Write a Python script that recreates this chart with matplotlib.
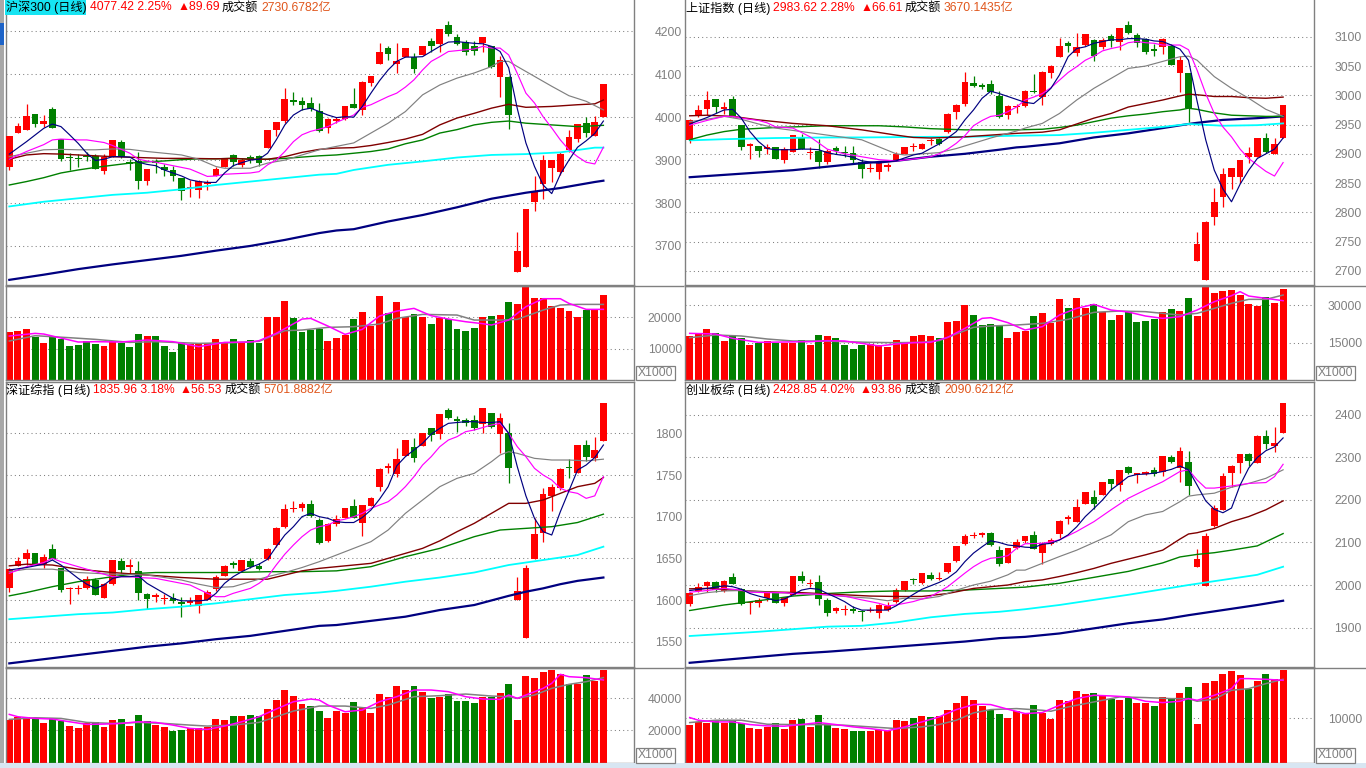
import numpy as np
import matplotlib
matplotlib.use('Agg')
import matplotlib.pyplot as plt
from matplotlib.patches import Rectangle
from matplotlib.lines import Line2D

# ---------------- data ----------------
# candles: (open, high, low, close), 70 trading days per index

hs300_ohlc = [
    (3885, 3956, 3877, 3955), (3964, 3986, 3964, 3980), (3970, 4030, 3969, 4003), (4008, 4008, 3976, 3984), (3985, 4005, 3976, 3991),
    (4020, 4023, 3974, 3974), (3949, 3949, 3898, 3903), (3908, 3916, 3877, 3905), (3905, 3914, 3885, 3902), (3910, 3918, 3897, 3907),
    (3910, 3914, 3879, 3879), (3875, 3914, 3868, 3908), (3907, 3947, 3907, 3947), (3941, 3946, 3905, 3908), (3895, 3902, 3877, 3892),
    (3897, 3919, 3833, 3852), (3852, 3880, 3841, 3880), (3896, 3902, 3871, 3893), (3883, 3891, 3863, 3876), (3877, 3887, 3852, 3864),
    (3859, 3859, 3806, 3828), (3834, 3854, 3815, 3838), (3831, 3854, 3812, 3852), (3844, 3854, 3831, 3849), (3862, 3883, 3862, 3880),
    (3885, 3904, 3885, 3904), (3911, 3914, 3886, 3896), (3889, 3904, 3885, 3900), (3908, 3911, 3893, 3902), (3910, 3911, 3887, 3893),
    (3929, 3970, 3928, 3969), (3970, 3989, 3955, 3989), (3990, 4069, 3986, 4043), (4040, 4059, 4028, 4035), (4038, 4047, 4016, 4029),
    (4033, 4047, 4015, 4019), (4015, 4033, 3966, 3968), (3974, 3999, 3964, 3995), (3990, 4001, 3986, 3995), (3995, 4026, 3994, 4026),
    (4031, 4068, 4021, 4022), (4017, 4085, 4005, 4082), (4079, 4096, 4073, 4095), (4123, 4172, 4123, 4152), (4161, 4166, 4134, 4147),
    (4123, 4172, 4103, 4131), (4140, 4162, 4140, 4162), (4140, 4149, 4102, 4113), (4145, 4166, 4145, 4166), (4178, 4184, 4151, 4165),
    (4171, 4206, 4151, 4206), (4215, 4224, 4190, 4193), (4186, 4194, 4168, 4170), (4175, 4179, 4144, 4151), (4165, 4178, 4145, 4155),
    (4172, 4187, 4151, 4187), (4166, 4166, 4114, 4116), (4094, 4143, 4048, 4134), (4094, 4095, 3973, 4005), (3640, 3732, 3640, 3688),
    (3652, 3786, 3652, 3786), (3802, 3864, 3782, 3829), (3844, 3911, 3809, 3900), (3881, 3900, 3850, 3900), (3873, 3920, 3866, 3914),
    (3924, 3970, 3920, 3954), (3948, 3984, 3941, 3984), (3986, 4000, 3953, 3963), (3955, 4003, 3955, 3989), (4000, 4077, 4000, 4077),
]

sh_ohlc = [
    (2923.6, 2959, 2918, 2957.8), (2964.7, 2983.5, 2963.5, 2975), (2977, 3008, 2966.4, 2992), (2993, 2994, 2969, 2979.5), (2976, 2988, 2968, 2979.5),
    (2993.7, 2999, 2963.5, 2964.7), (2949, 2949, 2906.5, 2911), (2914, 2918, 2891, 2917), (2913, 2913, 2894, 2905.4), (2908, 2917, 2900, 2911),
    (2912, 2912, 2891.7, 2891.7), (2889.5, 2912, 2883.8, 2907.7), (2903.7, 2933, 2903.7, 2933), (2928, 2934, 2909, 2909), (2901, 2911, 2891, 2903.7),
    (2905, 2925, 2875, 2885.5), (2885.5, 2907.7, 2882, 2905), (2910.5, 2914, 2900, 2905.4), (2902.6, 2913, 2895, 2901), (2901, 2913, 2882, 2889.5),
    (2885.5, 2890.6, 2859, 2873.5), (2873.5, 2885, 2869.5, 2876.4), (2869.5, 2885, 2857, 2885), (2878, 2883.8, 2870.6, 2881), (2887.7, 2903.7, 2887.7, 2900),
    (2899, 2912, 2899, 2912), (2912, 2919, 2904.8, 2914), (2908, 2919, 2907.5, 2916.8), (2922, 2926.5, 2915, 2923.6), (2924.8, 2926.5, 2915, 2916.8),
    (2938, 2969, 2936, 2968), (2972, 2984.6, 2959, 2983.5), (2985, 3040.5, 2981.8, 3023), (3021.7, 3033, 3013.7, 3016.5), (3017.7, 3021.7, 3010, 3015),
    (3019, 3027, 3002, 3005), (2999, 3008, 2960.7, 2963.5), (2965.8, 2983.5, 2959.5, 2981.8), (2980.6, 2986, 2970, 2982.3), (2981.8, 3009, 2980.6, 3007.4),
    (3008, 3036.5, 3004.6, 3005), (2997.7, 3041.6, 2983.5, 3040.5), (3037.6, 3052, 3030, 3050), (3066, 3097.4, 3066, 3085), (3090, 3093.5, 3074.6, 3085),
    (3071.8, 3106, 3067, 3082), (3086, 3105, 3084, 3105), (3094.6, 3095.7, 3059.3, 3067.8), (3083, 3098.6, 3079, 3094.6), (3101.4, 3105, 3083, 3093.5),
    (3091.7, 3114.5, 3077.5, 3114.5), (3120, 3127, 3105, 3107), (3103, 3107, 3083, 3090), (3095.7, 3098.6, 3070.6, 3073.5), (3080, 3087.7, 3067.8, 3076),
    (3083, 3097.4, 3070.6, 3095.7), (3085, 3087, 3052, 3052), (3038.7, 3067, 3006.3, 3060.4), (3038.7, 3038.7, 2955, 2977.8), (2717.4, 2767, 2717.4, 2746),
    (2684.3, 2785.8, 2684.3, 2784), (2792.6, 2841, 2778, 2818), (2826.8, 2875, 2808.5, 2865.5), (2860, 2875, 2839, 2875), (2861, 2889.5, 2850.7, 2889.5),
    (2895, 2912, 2883.8, 2902), (2895, 2927.6, 2895, 2927.6), (2927.6, 2936, 2902, 2903.7), (2900, 2927.6, 2900, 2916.8), (2926.5, 2983.5, 2926.5, 2983.5),
]

szzz_ohlc = [
    (1614, 1638, 1610, 1636.8), (1641.2, 1652, 1641.2, 1646.8), (1649.2, 1661, 1642, 1656), (1656, 1656, 1642, 1642.8), (1642.8, 1655, 1639, 1652),
    (1661.2, 1667, 1649.2, 1649.2), (1638, 1638, 1610, 1612), (1612.8, 1616, 1595, 1614.4), (1612.8, 1618, 1607, 1614), (1614, 1628.8, 1612.8, 1625),
    (1624, 1627, 1606, 1606), (1603, 1620.8, 1602, 1619), (1619, 1648, 1618, 1648), (1646.8, 1650, 1632.8, 1636), (1640, 1649, 1631, 1642),
    (1634.8, 1647, 1600, 1608.8), (1607, 1608, 1588.8, 1600.8), (1604, 1609, 1598, 1605.6), (1600.8, 1606.8, 1595, 1602), (1602, 1608, 1596, 1599),
    (1598, 1604, 1580, 1594.8), (1597, 1604, 1592.8, 1598.8), (1592.8, 1606, 1584.8, 1606), (1600, 1612, 1600, 1610), (1612.8, 1630, 1611, 1628),
    (1628.8, 1642, 1628.8, 1640.8), (1644.8, 1646.8, 1638, 1641.6), (1635.2, 1648, 1635.2, 1648), (1646.8, 1650, 1638, 1640), (1641, 1645, 1636, 1637.6),
    (1649, 1663, 1648, 1661), (1666, 1688, 1664, 1686), (1687.6, 1715, 1686, 1709), (1708.8, 1718.8, 1706, 1710.8), (1711, 1718, 1706.8, 1714.8),
    (1715, 1720, 1700, 1701), (1696, 1699, 1667, 1668.8), (1671, 1692, 1670, 1690.8), (1690.8, 1702, 1689, 1697), (1698.8, 1710, 1698.8, 1710),
    (1712.8, 1721, 1699, 1699), (1692.8, 1713.6, 1677, 1713.6), (1713, 1724, 1713, 1723), (1736, 1758, 1731, 1756.8), (1759, 1765, 1752, 1760.8),
    (1751, 1782, 1748, 1769), (1772.8, 1792, 1772.8, 1792), (1784, 1794, 1766, 1770.8), (1785, 1801, 1785, 1801), (1806, 1806, 1791, 1798),
    (1799, 1823, 1792.8, 1823), (1828, 1830.4, 1817, 1818.8), (1817, 1820.8, 1802, 1814.8), (1816, 1819, 1809, 1812.8), (1816, 1822, 1804, 1806.8),
    (1810.8, 1830, 1801, 1830), (1825, 1825, 1807, 1808), (1798.8, 1825, 1776, 1819), (1801, 1813, 1740.8, 1758), (1600, 1628, 1600, 1610.8),
    (1554, 1642, 1554, 1638), (1649.2, 1698, 1649.2, 1679), (1680.8, 1734, 1670, 1726.8), (1725, 1739, 1707, 1736), (1734, 1758, 1732, 1756.8),
    (1760, 1768.8, 1747, 1758.8), (1752.8, 1786, 1752, 1786), (1786, 1792, 1767, 1772), (1770.8, 1796, 1766.8, 1780), (1791, 1836.8, 1791, 1836.8),
]

cyb_ohlc = [
    (1955.3, 1982.7, 1951.4, 1980.4), (1985.9, 2003.9, 1984.3, 1994.5), (1998.4, 2009.4, 1984.3, 2006.3), (2007.8, 2009.4, 1982.7, 1988.2), (1985.9, 2011.8, 1984.3, 2009.4),
    (2019.6, 2027.5, 2002.4, 2002.4), (1990.6, 1992.2, 1953, 1955.3), (1956.9, 1960.8, 1931.3, 1958.4), (1956.9, 1968.6, 1949, 1964.7), (1968.6, 1984.3, 1963, 1980.4),
    (1980.4, 1984.3, 1958.4, 1958.4), (1956.9, 1972.6, 1951.4, 1971), (1976.5, 2021.2, 1976.5, 2021.2), (2021.2, 2033, 2005.5, 2009.4), (2001.6, 2013.3, 1996, 2003.9),
    (2006.3, 2023.5, 1953, 1966.3), (1964.7, 1968.6, 1927.8, 1935), (1938.8, 1949, 1933.4, 1946.7), (1941.2, 1953, 1929.4, 1943.5), (1942.7, 1951.4, 1933.4, 1939.6),
    (1939.6, 1941.2, 1916, 1935.7), (1938.8, 1949, 1935.7, 1941.2), (1933.4, 1955.3, 1921.4, 1953), (1941.2, 1960.8, 1938.8, 1951.4), (1960.8, 1992.2, 1958.4, 1988.2),
    (1988.2, 2009.4, 1986.7, 2009.4), (2014.1, 2015.7, 2002.4, 2011.8), (2003.9, 2029, 2002.4, 2027.5), (2023.5, 2031.4, 2011.8, 2014.1), (2014.1, 2031.4, 2011.8, 2017.3),
    (2031.4, 2052.6, 2029, 2051), (2056.5, 2091.8, 2055, 2091.8), (2095.7, 2120, 2094.1, 2116.1), (2115.3, 2125.5, 2109.8, 2117.6), (2117.6, 2125.5, 2112.2, 2121.6),
    (2123.1, 2125.5, 2092.5, 2094.1), (2082.4, 2091.8, 2045.5, 2048.6), (2052.6, 2087.9, 2051, 2086.3), (2086.3, 2107.5, 2084.7, 2102), (2104.3, 2115.3, 2098, 2115.3),
    (2117.6, 2127, 2084.7, 2084.7), (2074.5, 2102, 2048.6, 2096.5), (2096.5, 2109.8, 2094.1, 2105.9), (2120, 2152.9, 2109.8, 2150.6), (2154.5, 2164.7, 2143.5, 2160.8),
    (2149, 2202.4, 2147.5, 2184.3), (2190.6, 2219.6, 2190.6, 2219.6), (2206.3, 2223.5, 2178.8, 2190.6), (2211.8, 2243, 2211.8, 2243), (2249.4, 2249.4, 2223.5, 2236.9),
    (2235.3, 2270.6, 2222, 2270.6), (2276.9, 2280, 2261.2, 2262.7), (2258.8, 2264.3, 2240.8, 2262.7), (2261.2, 2268.2, 2259, 2265.1), (2270.6, 2276.9, 2257.3, 2261.2),
    (2266.7, 2303.5, 2256.5, 2303.5), (2302, 2305.9, 2286, 2288.6), (2276, 2325.5, 2243, 2315.3), (2290.2, 2315.3, 2211.8, 2233), (2043.1, 2084, 2043.1, 2061.2),
    (1998.4, 2121.6, 1998.4, 2115.3), (2138.8, 2188.2, 2135.7, 2182), (2176.5, 2264.3, 2176.5, 2256.5), (2264.3, 2282.4, 2229.8, 2280), (2286.3, 2308.2, 2262.7, 2308.2),
    (2308.2, 2311.4, 2280, 2292.6), (2286.3, 2352.9, 2286.3, 2350.6), (2350.6, 2364.7, 2320, 2331.8), (2327.1, 2371, 2313.7, 2334.9), (2358.4, 2427.5, 2358.4, 2427.5),
]

# volume (axis unit = X1000)
hs300_vol = [15307, 15626, 16264, 13713, 11799, 14138, 13075, 10843, 11162, 12331,
             11587, 10843, 12331, 11693, 10524, 14669, 14032, 14032, 10843, 8929,
             11693, 11374, 11374, 11693, 13075, 11693, 13075, 12118, 12650, 11906,
             20091, 20091, 25193, 19878, 15307, 15945, 16264, 12437, 13394, 14244,
             19453, 21685, 17221, 26788, 21473, 24874, 19984, 21047, 19984, 17965,
             19878, 19453, 16264, 15626, 16583, 20091, 20410, 20835, 24874, 24236,
             29658, 26150, 26044, 23599, 22961, 22004, 20091, 22429, 22323, 27107]
sh_vol = [17596, 18662, 20395, 18662, 15596, 17996, 16929, 13997, 14930, 15596,
          14930, 14663, 14663, 15996, 13997, 17996, 17596, 16929, 13997, 12397,
          13997, 14263, 13997, 13330, 15996, 15196, 17596, 17996, 17596, 16929,
          23194, 23594, 29993, 25994, 21995, 22394, 21728, 16929, 19329, 19728,
          25594, 26927, 22661, 32392, 28793, 32925, 28926, 30392, 27327, 23994,
          25994, 27060, 23328, 23727, 24394, 27193, 28393, 27593, 32925, 25594,
          37324, 34925, 35724, 35991, 33992, 30259, 29726, 33192, 30926, 36391]
szzz_vol = [26454, 28537, 28537, 27912, 24788, 27496, 25829, 22705, 21663, 24371,
            25413, 22288, 26454, 27079, 22705, 29579, 25829, 23330, 22288, 19789,
            20205, 21247, 21247, 22288, 27079, 26454, 28954, 28954, 29579, 28954,
            33328, 38952, 45201, 41452, 36453, 35203, 32078, 27912, 32287, 31037,
            37702, 34786, 30828, 42702, 40827, 47701, 45201, 47701, 43743, 40202,
            41035, 42910, 38536, 38536, 37077, 41035, 41035, 43326, 48951, 26454,
            53950, 52908, 56449, 57699, 55200, 48951, 48951, 54575, 50825, 57699]
cyb_vol = [8411, 9162, 9012, 9388, 9012, 9538, 8937, 7810, 7510, 7961,
           8937, 7510, 9538, 9763, 7961, 10664, 8561, 7810, 7510, 7059,
           7059, 7210, 7435, 7135, 9538, 9312, 10063, 10439, 10214, 10439,
           11791, 13443, 14945, 14119, 12692, 11941, 10890, 10063, 11565, 11040,
           12992, 11265, 9763, 14119, 13894, 16147, 15396, 15621, 15020, 14344,
           14044, 14645, 13443, 13443, 12767, 14720, 14494, 15621, 16973, 8637,
           17949, 18324, 19902, 20653, 19676, 16522, 18400, 19902, 18775, 20803]

# moving-average lines, read as (day index, value) points
hs300_ma5 = [(0, 3914), (2, 3943), (4, 3974), (5, 3984), (6, 3978), (7, 3959), (8, 3939), (9, 3916), (10, 3899), (11, 3902), (12, 3908), (13, 3908), (14, 3907), (15, 3895), (16, 3890), (17, 3887), (18, 3877), (19, 3870), (20, 3863), (21, 3854), (22, 3850), (23, 3848), (24, 3848), (25, 3870), (26, 3887), (27, 3894), (28, 3900), (29, 3902), (30, 3916), (31, 3947), (32, 3982), (33, 4005), (34, 4017), (35, 4021), (36, 4013), (37, 4005), (38, 3999), (39, 4001), (40, 4000), (41, 4025), (42, 4056), (43, 4085), (44, 4110), (45, 4130), (46, 4140), (47, 4140), (48, 4141), (49, 4153), (50, 4165), (51, 4175), (52, 4176), (53, 4174), (54, 4172), (55, 4171), (56, 4165), (57, 4153), (58, 4115), (59, 4020), (60, 3940), (61, 3885), (62, 3842), (63, 3822), (64, 3867), (65, 3900), (66, 3930), (67, 3945), (68, 3962), (69, 3991)]
hs300_ma10 = [(0, 3902), (2, 3920), (4, 3936), (5, 3947), (6, 3949), (8, 3947), (9, 3947), (11, 3941), (12, 3934), (14, 3916), (15, 3902), (16, 3898), (17, 3895), (19, 3887), (21, 3879), (23, 3862), (24, 3863), (25, 3867), (26, 3868), (28, 3870), (29, 3873), (30, 3889), (31, 3900), (32, 3920), (33, 3943), (34, 3959), (35, 3967), (36, 3972), (37, 3978), (38, 3988), (40, 4005), (41, 4023), (42, 4029), (44, 4048), (45, 4056), (46, 4070), (47, 4087), (48, 4110), (49, 4130), (50, 4141), (51, 4153), (52, 4155), (53, 4157), (54, 4159), (55, 4165), (56, 4161), (57, 4161), (58, 4145), (59, 4102), (60, 4056), (61, 4033), (62, 4001), (63, 3975), (64, 3947), (65, 3924), (66, 3908), (67, 3895), (68, 3891), (69, 3930)]
hs300_ma20 = [(0, 3908), (2, 3916), (4, 3924), (6, 3925), (8, 3924), (10, 3924), (12, 3926), (14, 3925), (16, 3920), (18, 3916), (20, 3912), (22, 3902), (24, 3885), (25, 3881), (26, 3881), (28, 3881), (30, 3893), (32, 3900), (34, 3912), (36, 3924), (38, 3932), (40, 3940), (42, 3963), (44, 3986), (46, 4013), (48, 4052), (50, 4075), (52, 4091), (54, 4103), (56, 4118), (57, 4130), (58, 4130), (59, 4118), (61, 4095), (63, 4072), (65, 4050), (67, 4037), (69, 4017)]
hs300_ma30 = [(0, 3902), (2, 3912), (4, 3915), (6, 3914), (9, 3911), (12, 3908), (15, 3906), (18, 3904), (21, 3904), (24, 3903), (26, 3904), (28, 3902), (30, 3902), (32, 3908), (34, 3918), (36, 3925), (38, 3928), (40, 3929), (42, 3934), (44, 3941), (46, 3949), (48, 3960), (50, 3982), (52, 3998), (54, 4009), (56, 4021), (58, 4030), (60, 4023), (63, 4025), (66, 4029), (68, 4031), (69, 4040)]
hs300_ma60 = [(0, 3842), (2, 3850), (4, 3859), (6, 3870), (8, 3877), (10, 3883), (12, 3888), (14, 3893), (16, 3896), (18, 3898), (20, 3901), (22, 3903), (24, 3903), (26, 3904), (28, 3902), (30, 3902), (32, 3904), (34, 3907), (36, 3910), (38, 3912), (40, 3916), (42, 3920), (44, 3926), (46, 3938), (48, 3947), (50, 3963), (52, 3971), (54, 3982), (56, 3988), (58, 3991), (60, 3986), (63, 3982), (66, 3978), (69, 3981)]
hs300_ma120 = [(0, 3792), (4, 3803), (8, 3811), (12, 3819), (16, 3824), (20, 3832), (24, 3842), (28, 3850), (32, 3858), (36, 3866), (38, 3868), (40, 3877), (44, 3889), (48, 3897), (52, 3906), (56, 3912), (60, 3914), (64, 3918), (68, 3929), (69, 3929)]
hs300_ma250 = [(0, 3621), (4, 3633), (8, 3646), (12, 3657), (16, 3667), (20, 3677), (24, 3689), (28, 3700), (32, 3714), (36, 3730), (38, 3736), (40, 3739), (44, 3757), (48, 3772), (52, 3790), (56, 3810), (60, 3824), (64, 3835), (68, 3849), (69, 3852)]

sh_ma5 = [(0, 2951), (2, 2962), (4, 2975), (5, 2976), (6, 2961), (7, 2938), (8, 2921), (9, 2909), (10, 2907), (11, 2907), (12, 2907), (13, 2908), (14, 2908), (15, 2907), (16, 2902), (17, 2899), (18, 2897), (19, 2894), (20, 2888), (21, 2886), (22, 2884), (23, 2886), (24, 2888), (25, 2893), (26, 2898), (27, 2901), (28, 2909), (29, 2917), (30, 2927), (31, 2938), (32, 2958), (33, 2975), (34, 2995), (35, 3007), (36, 3003), (37, 2998), (38, 2993), (39, 2988), (40, 2986), (41, 2998), (42, 3012), (43, 3035), (44, 3066), (45, 3080), (46, 3083), (47, 3089), (48, 3092), (49, 3095), (50, 3095), (51, 3097), (52, 3097), (53, 3096), (54, 3093), (55, 3092), (56, 3086), (57, 3079), (58, 3060), (59, 2990), (60, 2924), (61, 2872), (62, 2840), (63, 2818), (64, 2848), (65, 2872), (66, 2892), (67, 2900), (68, 2908), (69, 2927)]
sh_ma10 = [(0, 2949), (2, 2957), (4, 2964), (5, 2964), (6, 2961), (8, 2957), (9, 2953), (10, 2946), (12, 2944), (14, 2929), (16, 2908), (18, 2900), (20, 2895), (22, 2890), (24, 2888), (26, 2891), (28, 2895), (29, 2900), (30, 2908), (31, 2918), (32, 2931), (33, 2948), (34, 2957), (35, 2964), (36, 2966), (37, 2972), (38, 2980), (39, 2992), (40, 2997), (41, 3003), (42, 3013), (43, 3026), (44, 3039), (45, 3049), (46, 3060), (47, 3067), (48, 3076), (49, 3080), (50, 3083), (51, 3090), (52, 3092), (53, 3090), (54, 3089), (55, 3086), (56, 3086), (57, 3086), (58, 3078), (59, 3043), (60, 3003), (61, 2969), (62, 2946), (63, 2929), (64, 2908), (65, 2892), (66, 2881), (67, 2870), (68, 2862), (69, 2885)]
sh_ma20 = [(0, 2955), (2, 2959), (4, 2964), (6, 2959), (8, 2951), (10, 2944), (12, 2940), (14, 2936), (16, 2932), (18, 2928), (20, 2924), (22, 2912), (24, 2900), (25, 2898), (27, 2900), (29, 2902), (31, 2909), (33, 2918), (35, 2927), (37, 2935), (38, 2939), (39, 2944), (41, 2952), (43, 2969), (45, 2992), (47, 3012), (49, 3029), (51, 3046), (53, 3050), (55, 3058), (57, 3066), (58, 3067), (59, 3060), (61, 3032), (63, 3012), (65, 2995), (67, 2976), (69, 2964)]
sh_ma30 = [(0, 2965), (2, 2966), (5, 2964), (8, 2958), (12, 2952), (16, 2948), (20, 2941), (24, 2932), (26, 2928), (28, 2927), (30, 2928), (32, 2929), (35, 2932), (38, 2935), (41, 2937), (43, 2941), (45, 2951), (47, 2961), (49, 2969), (51, 2980), (53, 2986), (55, 2992), (57, 2999), (58, 3002), (59, 3001), (61, 2998), (63, 2998), (65, 2996), (67, 2995), (69, 2997)]
sh_ma60 = [(0, 2924), (2, 2932), (4, 2938), (6, 2942), (10, 2945), (16, 2948), (22, 2948), (25, 2946), (28, 2943), (32, 2941), (38, 2941), (41, 2942), (43, 2945), (45, 2949), (47, 2955), (49, 2961), (51, 2965), (53, 2968), (55, 2972), (57, 2975), (58, 2978), (59, 2976), (61, 2970), (63, 2966), (65, 2965), (67, 2964), (69, 2964)]
sh_ma120 = [(0, 2923), (4, 2925), (10, 2927), (16, 2928), (20, 2928), (28, 2929), (32, 2929), (38, 2931), (43, 2932), (47, 2936), (51, 2941), (55, 2946), (58, 2951), (62, 2948), (66, 2949), (69, 2952)]
sh_ma250 = [(0, 2860), (4, 2864), (8, 2868), (12, 2872), (16, 2878), (20, 2884), (24, 2888), (28, 2895), (32, 2900), (36, 2907), (38, 2911), (39, 2912), (43, 2918), (47, 2928), (51, 2935), (55, 2944), (58, 2951), (59, 2953), (62, 2958), (66, 2961), (69, 2964)]

szzz_ma5 = [(0, 1636), (2, 1639), (4, 1643), (5, 1648), (6, 1642), (7, 1634), (8, 1626), (9, 1619), (10, 1614), (11, 1618), (12, 1626), (13, 1628), (14, 1628), (15, 1629), (16, 1620), (17, 1614), (18, 1608), (19, 1602), (20, 1599), (21, 1599), (22, 1599), (23, 1600), (24, 1608), (25, 1620), (26, 1628), (27, 1634), (28, 1639), (29, 1643), (30, 1649), (31, 1664), (32, 1678), (33, 1688), (34, 1700), (35, 1704), (36, 1700), (37, 1698), (38, 1694), (39, 1693), (40, 1693), (41, 1699), (42, 1708), (43, 1721), (44, 1736), (45, 1761), (46, 1772), (47, 1780), (48, 1788), (49, 1799), (50, 1806), (51, 1812), (52, 1813), (53, 1814), (54, 1814), (55, 1813), (56, 1813), (57, 1814), (58, 1800), (59, 1760), (60, 1725), (61, 1698), (62, 1682), (63, 1678), (64, 1706), (65, 1731), (66, 1756), (67, 1762), (68, 1771), (69, 1786)]
szzz_ma10 = [(0, 1632), (2, 1640), (4, 1645), (5, 1650), (6, 1646), (8, 1640), (10, 1634), (12, 1628), (14, 1628), (15, 1627), (17, 1626), (19, 1622), (21, 1618), (23, 1608), (24, 1604), (25, 1604), (26, 1608), (28, 1614), (29, 1620), (30, 1628), (31, 1642), (32, 1655), (33, 1666), (34, 1676), (35, 1684), (36, 1688), (37, 1690), (38, 1695), (39, 1697), (40, 1700), (41, 1704), (42, 1710), (43, 1714), (44, 1718), (45, 1726), (46, 1736), (47, 1748), (48, 1762), (49, 1772), (50, 1784), (51, 1792), (52, 1796), (53, 1802), (54, 1804), (55, 1807), (56, 1810), (57, 1812), (58, 1800), (59, 1784), (60, 1772), (61, 1758), (62, 1750), (63, 1744), (64, 1734), (65, 1730), (66, 1728), (67, 1722), (68, 1725), (69, 1748)]
szzz_ma20 = [(0, 1634), (2, 1637), (5, 1637), (8, 1633), (12, 1631), (16, 1630), (20, 1624), (22, 1619), (24, 1615), (26, 1616), (28, 1622), (30, 1628), (32, 1633), (34, 1639), (36, 1646), (38, 1654), (40, 1662), (42, 1670), (44, 1684), (46, 1704), (48, 1720), (50, 1736), (52, 1746), (54, 1752), (56, 1766), (57, 1774), (58, 1778), (59, 1776), (61, 1770), (63, 1768), (65, 1768), (67, 1767), (69, 1769)]
szzz_ma30 = [(0, 1641), (2, 1643), (5, 1642), (8, 1637), (12, 1633), (16, 1630), (20, 1627), (24, 1625), (28, 1625), (30, 1625), (32, 1630), (34, 1635), (36, 1638), (38, 1640), (42, 1644), (46, 1656), (48, 1662), (50, 1671), (52, 1682), (54, 1692), (56, 1704), (58, 1716), (60, 1716), (62, 1720), (64, 1728), (66, 1736), (68, 1740), (69, 1747)]
szzz_ma60 = [(0, 1605), (2, 1609), (5, 1616), (8, 1622), (12, 1628), (15, 1632), (17, 1633), (22, 1633), (26, 1633), (30, 1634), (34, 1634), (38, 1635), (42, 1640), (46, 1652), (50, 1662), (54, 1676), (57, 1684), (60, 1686), (63, 1688), (66, 1693), (69, 1703)]
szzz_ma120 = [(0, 1577), (4, 1580), (8, 1583), (12, 1585), (16, 1589), (20, 1592), (24, 1596), (28, 1601), (32, 1606), (36, 1609), (38, 1611), (42, 1616), (46, 1622), (50, 1627), (54, 1633), (58, 1642), (62, 1648), (66, 1654), (69, 1664)]
szzz_ma250 = [(0, 1524), (4, 1529), (8, 1534), (12, 1539), (16, 1544), (20, 1548), (24, 1553), (28, 1557), (32, 1563), (36, 1569), (38, 1570), (42, 1575), (46, 1580), (50, 1588), (54, 1594), (58, 1605), (60, 1610), (62, 1614), (64, 1619), (66, 1623), (69, 1627)]

cyb_ma5 = [(0, 1987), (2, 1992), (4, 1998), (5, 1996), (6, 1990), (7, 1980), (8, 1974), (9, 1969), (10, 1963), (11, 1967), (12, 1977), (13, 1988), (14, 1992), (15, 1990), (16, 1980), (17, 1971), (18, 1961), (19, 1948), (20, 1941), (21, 1941), (22, 1941), (23, 1941), (24, 1951), (25, 1965), (26, 1978), (27, 1990), (28, 1998), (29, 2006), (30, 2016), (31, 2031), (32, 2055), (33, 2075), (34, 2090), (35, 2104), (36, 2100), (37, 2094), (38, 2092), (39, 2089), (40, 2088), (41, 2096), (42, 2098), (43, 2106), (44, 2118), (45, 2137), (46, 2161), (47, 2180), (48, 2200), (49, 2224), (50, 2239), (51, 2255), (52, 2260), (53, 2261), (54, 2263), (55, 2267), (56, 2272), (57, 2280), (58, 2271), (59, 2235), (60, 2198), (61, 2178), (62, 2170), (63, 2181), (64, 2235), (65, 2275), (66, 2300), (67, 2316), (68, 2325), (69, 2346)]
cyb_ma10 = [(0, 1983), (2, 1987), (4, 1992), (6, 1988), (7, 1983), (9, 1982), (11, 1982), (12, 1980), (14, 1979), (16, 1977), (18, 1974), (20, 1965), (22, 1957), (23, 1951), (24, 1953), (25, 1957), (26, 1961), (28, 1973), (29, 1984), (30, 1996), (31, 2012), (32, 2028), (33, 2043), (34, 2055), (35, 2063), (36, 2065), (37, 2069), (38, 2086), (39, 2097), (41, 2098), (43, 2106), (45, 2126), (47, 2149), (49, 2177), (51, 2204), (53, 2224), (55, 2243), (57, 2267), (58, 2271), (59, 2247), (60, 2228), (61, 2228), (63, 2233), (65, 2239), (67, 2241), (68, 2255), (69, 2284)]
cyb_ma20 = [(0, 1975), (2, 1982), (4, 1986), (6, 1987), (9, 1983), (12, 1980), (15, 1978), (18, 1973), (21, 1969), (23, 1963), (25, 1969), (27, 1967), (29, 1973), (31, 1988), (33, 2000), (35, 2009), (37, 2024), (38, 2035), (39, 2035), (41, 2051), (43, 2067), (45, 2082), (47, 2100), (49, 2118), (51, 2149), (53, 2165), (55, 2173), (57, 2196), (58, 2209), (59, 2212), (61, 2216), (63, 2230), (65, 2239), (67, 2251), (69, 2271)]
cyb_ma30 = [(0, 1991), (2, 1992), (5, 1988), (9, 1984), (13, 1982), (17, 1978), (21, 1974), (24, 1973), (27, 1973), (30, 1980), (33, 1992), (35, 1996), (37, 2000), (38, 2004), (39, 2008), (41, 2012), (43, 2020), (45, 2029), (47, 2039), (49, 2051), (51, 2061), (53, 2071), (55, 2082), (57, 2108), (58, 2120), (59, 2123), (61, 2133), (63, 2149), (65, 2161), (67, 2177), (69, 2198)]
cyb_ma60 = [(0, 1940), (4, 1953), (8, 1963), (12, 1974), (16, 1980), (20, 1984), (24, 1986), (28, 1986), (32, 1988), (36, 1992), (39, 1995), (43, 2004), (47, 2018), (51, 2032), (55, 2052), (57, 2066), (59, 2072), (61, 2076), (63, 2082), (66, 2092), (69, 2121)]
cyb_ma120 = [(0, 1880), (4, 1885), (8, 1890), (12, 1896), (16, 1902), (20, 1904), (24, 1912), (28, 1924), (32, 1932), (36, 1937), (38, 1941), (39, 1943), (43, 1953), (47, 1965), (51, 1977), (55, 1990), (58, 2000), (62, 2012), (66, 2024), (69, 2043)]
cyb_ma250 = [(0, 1817), (4, 1824), (8, 1831), (12, 1838), (16, 1843), (20, 1849), (24, 1855), (28, 1861), (32, 1867), (36, 1875), (39, 1878), (43, 1886), (47, 1898), (51, 1910), (55, 1919), (58, 1929), (62, 1941), (66, 1953), (69, 1963)]

# volume moving averages (magenta = 5 day, gray = 10 day)
hs300_vma5 = [(0, 14030), (3, 14880), (4, 14670), (8, 12120), (10, 12230), (13, 12120), (16, 12760), (19, 12230), (22, 10630), (25, 12010), (28, 12120), (29, 12540), (31, 14880), (34, 19450), (35, 19670), (37, 17220), (39, 14560), (41, 16160), (43, 20410), (45, 22000), (47, 22860), (49, 20520), (51, 19450), (53, 18600), (55, 17970), (56, 17540), (58, 19130), (60, 23390), (62, 25940), (64, 25940), (65, 24450), (67, 22540), (69, 22540)]
hs300_vma10 = [(0, 12440), (3, 14140), (7, 13500), (10, 12970), (14, 12010), (17, 12230), (22, 11690), (26, 11910), (29, 12330), (32, 15730), (34, 15950), (37, 16800), (40, 17010), (43, 17860), (45, 19670), (48, 20940), (52, 20730), (54, 19130), (57, 19130), (59, 19350), (62, 22320), (64, 23920), (66, 24130), (69, 24130)]
sh_vma5 = [(0, 18660), (3, 18400), (5, 16660), (8, 15060), (11, 15200), (14, 15330), (16, 15730), (18, 15600), (20, 14660), (22, 13600), (24, 14400), (26, 14930), (28, 15060), (30, 17060), (32, 20660), (34, 24660), (35, 24930), (37, 22930), (39, 20000), (41, 21330), (43, 25990), (45, 28660), (47, 30260), (49, 27990), (51, 27190), (53, 25590), (55, 24660), (57, 25330), (59, 27990), (61, 31330), (63, 33730), (64, 35330), (65, 33590), (67, 32660), (69, 31730)]
sh_vma10 = [(0, 16930), (3, 18000), (6, 17600), (9, 16400), (12, 15600), (15, 15600), (18, 15330), (21, 15060), (24, 14930), (27, 15060), (29, 15730), (31, 18400), (33, 21060), (35, 21600), (38, 22000), (41, 22660), (44, 24260), (47, 27060), (50, 27590), (53, 27330), (55, 26660), (57, 25990), (59, 26660), (61, 28660), (63, 30660), (65, 32260), (67, 32260), (69, 33990)]
szzz_vma5 = [(0, 30000), (1, 28540), (3, 27500), (5, 27080), (7, 25410), (9, 23750), (11, 23960), (13, 24370), (15, 25410), (17, 25000), (19, 23330), (21, 21250), (23, 20620), (25, 22710), (27, 25410), (29, 28540), (31, 33330), (33, 37910), (35, 39580), (36, 38950), (37, 35830), (39, 31660), (41, 32700), (43, 37910), (45, 41040), (47, 45200), (49, 45200), (51, 44160), (53, 41040), (55, 39580), (57, 39370), (58, 42080), (59, 39990), (60, 42080), (62, 46240), (63, 49370), (64, 54990), (65, 53530), (67, 52910), (69, 51450)]
szzz_vma10 = [(0, 26870), (3, 27910), (6, 27500), (9, 25000), (12, 24370), (15, 25000), (18, 24370), (21, 23330), (23, 22710), (26, 23330), (29, 25000), (31, 28540), (33, 32080), (36, 35200), (39, 35200), (42, 33750), (44, 35830), (47, 41040), (50, 41660), (53, 42700), (56, 41450), (58, 41040), (59, 40000), (61, 42080), (63, 46240), (65, 48740), (67, 50410), (69, 52910)]
cyb_vma5 = [(0, 10140), (1, 9540), (3, 9160), (5, 9160), (7, 8560), (9, 8260), (11, 8190), (13, 8560), (15, 9010), (17, 8560), (19, 8040), (21, 7660), (23, 7140), (25, 8040), (27, 9160), (29, 10290), (31, 11940), (33, 13070), (34, 13140), (35, 13070), (37, 12020), (39, 11040), (41, 11270), (43, 12920), (45, 14420), (47, 15170), (49, 15020), (51, 14800), (53, 13820), (55, 13520), (57, 13820), (58, 14420), (59, 14040), (61, 15170), (63, 16670), (64, 18930), (65, 18930), (67, 18780), (69, 18550)]
cyb_vma10 = [(0, 9010), (3, 9540), (6, 9540), (9, 8640), (12, 8560), (15, 8560), (18, 8410), (21, 8040), (24, 7660), (27, 8040), (29, 8560), (31, 9540), (33, 11190), (35, 11940), (38, 12170), (41, 11790), (42, 11570), (44, 12540), (47, 13670), (50, 14800), (53, 14650), (56, 14420), (58, 14420), (59, 13820), (61, 14270), (63, 16300), (65, 16670), (67, 17800), (69, 18780)]

# header texts: (name, close, pct, change, turnover)
hs300_info = ('沪深300 (日线)', '4077.42', '2.25%', '▲89.69', '2730.6782亿')
sh_info = ('上证指数 (日线)', '2983.62', '2.28%', '▲66.61', '3670.1435亿')
szzz_info = ('深证综指 (日线)', '1835.96', '3.18%', '▲56.53', '5701.8882亿')
cyb_info = ('创业板综 (日线)', '2428.85', '4.02%', '▲93.86', '2090.6212亿')

# ---------------- drawing ----------------
W, H = 1366, 768
RED, GREEN = '#FF0000', '#008000'
GRID = '#808080'
FONT = ['Liberation Sans', 'Noto Sans CJK SC', 'DejaVu Sans']

fig = plt.figure(figsize=(W / 100, H / 100), dpi=100)
fig.patch.set_facecolor('white')


def px_axes(x0, y0, x1, y1):
    return fig.add_axes([x0 / W, 1 - y1 / H, (x1 - x0) / W, (y1 - y0) / H])


def style_axis(ax, ticks, top_spine=True):
    for side, sp in ax.spines.items():
        sp.set_color(GRID)
        sp.set_linewidth(1.0)
    ax.spines['top'].set_visible(top_spine)
    ax.set_xticks([])
    ax.yaxis.tick_right()
    ax.set_yticks(ticks)
    ax.set_yticklabels([str(t) for t in ticks], ha='right', color=GRID,
                       fontsize=8.7, family='Liberation Sans')
    ax.tick_params(axis='y', length=0, pad=34.3)
    ax.grid(axis='y', color=GRID, linewidth=0.75, linestyle=(0, (1, 3)))
    ax.set_axisbelow(True)


def draw_panel(x0, x1, first, step, top, ohlc, vol, mas, vmas, ylim, yticks, vtop, vticks):
    xlim = (-(first - x0) / step, (x1 - first) / step)
    if top:
        py0, py1, vy0, vy1 = 0, 285, 286, 380
    else:
        py0, py1, vy0, vy1 = 382, 666.7, 668.3, 762.5
    ax = px_axes(x0, py0, x1, py1)
    axv = px_axes(x0, vy0, x1, vy1)

    arr = np.array(ohlc, dtype=float)
    o, h, l, c = arr[:, 0], arr[:, 1], arr[:, 2], arr[:, 3]
    idx = np.arange(len(arr))
    up = c >= o
    cols = np.where(up, RED, GREEN)
    minh = (ylim[1] - ylim[0]) / (py1 - py0)

    ax.vlines(idx, l, h, colors=cols, linewidth=0.9, zorder=2)
    ax.bar(idx, np.maximum(np.abs(c - o), minh), bottom=np.minimum(o, c),
           width=0.78, color=cols, linewidth=0, zorder=3)
    for pts, color, lw in mas:
        ax.plot([p[0] for p in pts], [p[1] for p in pts], color=color, lw=lw, zorder=4)
    ax.set_xlim(*xlim)
    ax.set_ylim(*ylim)
    style_axis(ax, yticks, top_spine=not top)

    axv.bar(idx, vol, width=0.8, color=cols, linewidth=0, zorder=2)
    for pts, color in vmas:
        axv.plot([p[0] for p in pts], [p[1] for p in pts], color=color, lw=1.1, zorder=3)
    axv.set_xlim(*xlim)
    axv.set_ylim(0, vtop)
    style_axis(axv, vticks)

    # separator across the label column and the X1000 box
    right_edge = 683 if x0 < 600 else 1366
    fig.add_artist(Line2D([x0 / W, right_edge / W], [1 - vy0 / H] * 2, color=GRID, lw=1.0))
    fig.text((x1 + 21) / W, 1 - (vy1 - 7) / H, 'X1000', color=GRID, fontsize=8.7,
             family='Liberation Sans', ha='center', va='center',
             bbox=dict(boxstyle='square,pad=0.12', fc='white', ec=GRID, lw=0.9))


def ma_set(m5, m10, m20, m30, m60, m120, m250):
    return [(m250, '#000080', 1.6), (m120, '#00FFFF', 1.3), (m60, '#008000', 1.0),
            (m30, '#800000', 1.0), (m20, '#808080', 0.85), (m10, '#FF00FF', 0.85),
            (m5, '#000080', 0.85)]


def header(xs, y, info, highlight=False):
    name, close, pct, chg, amount = info
    if highlight:
        fig.add_artist(Rectangle(((xs[0] - 1) / W, 1 - 15 / H), 81 / W, 15 / H,
                                 transform=fig.transFigure, facecolor='#16E4F2',
                                 edgecolor='none', zorder=3))
    segs = [(name, '#000000'), (close + ' ' + pct, RED), (chg, RED), ('成交额', '#000000'),
            (amount, '#E0561C')]
    for x, (s, col) in zip(xs, segs):
        fig.text(x / W, 1 - y / H, s, color=col, fontsize=8.7, family=FONT,
                 ha='left', va='center', zorder=5)


# left column: candle 0 at x=9.3 px, 8.61 px per day ; right column: 689.7 px, 8.6 px per day
draw_panel(6, 634.3, 9.3, 8.61, True, hs300_ohlc, hs300_vol,
           ma_set(hs300_ma5, hs300_ma10, hs300_ma20, hs300_ma30, hs300_ma60, hs300_ma120, hs300_ma250),
           [(hs300_vma10, '#808080'), (hs300_vma5, '#FF00FF')],
           (3609, 4273), [3700, 3800, 3900, 4000, 4100, 4200], 30000, [10000, 20000])
draw_panel(685, 1314.3, 689.7, 8.6, True, sh_ohlc, sh_vol,
           ma_set(sh_ma5, sh_ma10, sh_ma20, sh_ma30, sh_ma60, sh_ma120, sh_ma250),
           [(sh_vma10, '#808080'), (sh_vma5, '#FF00FF')],
           (2675.7, 3163), [2700, 2750, 2800, 2850, 2900, 2950, 3000, 3050, 3100], 37600, [15000, 30000])
draw_panel(6, 634.3, 9.3, 8.61, False, szzz_ohlc, szzz_vol,
           ma_set(szzz_ma5, szzz_ma10, szzz_ma20, szzz_ma30, szzz_ma60, szzz_ma120, szzz_ma250),
           [(szzz_vma10, '#808080'), (szzz_vma5, '#FF00FF')],
           (1520, 1861.6), [1550, 1600, 1650, 1700, 1750, 1800], 58750, [20000, 40000])
draw_panel(685, 1314.3, 689.7, 8.6, False, cyb_ohlc, cyb_vol,
           ma_set(cyb_ma5, cyb_ma10, cyb_ma20, cyb_ma30, cyb_ma60, cyb_ma120, cyb_ma250),
           [(cyb_vma10, '#808080'), (cyb_vma5, '#FF00FF')],
           (1807.8, 2477.6), [1900, 2000, 2100, 2200, 2300, 2400], 21260, [10000])

header([6, 90, 178, 222, 261], 7.5, hs300_info, highlight=True)
header([686, 773, 861, 905, 944], 8, sh_info)
header([6, 93, 180, 225, 264], 390, szzz_info)
header([686, 773, 860, 905, 944], 390, cyb_info)

# window border strips
fig.add_artist(Rectangle((0, 0), 4 / W, 1, transform=fig.transFigure, facecolor='#A8A8A8', edgecolor='none'))
fig.add_artist(Rectangle((0, 1 - 45 / H), 4 / W, 22 / H, transform=fig.transFigure, facecolor='#1E64C8', edgecolor='none'))
fig.add_artist(Rectangle((0, 0), 1, 5 / H, transform=fig.transFigure, facecolor='#D8E6F2', edgecolor='none'))

fig.savefig('out.png', dpi=100, facecolor='white')
